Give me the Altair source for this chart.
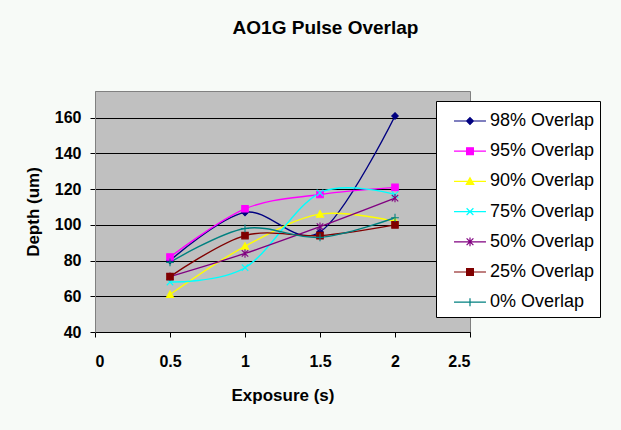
import altair as alt
import pandas as pd

# Exposure times (s) and measured depth (um) per overlap setting
exposure = [0.5, 1.0, 1.5, 2.0]
series_names = [
    "98% Overlap", "95% Overlap", "90% Overlap", "75% Overlap",
    "50% Overlap", "25% Overlap", "0% Overlap",
]
depth_98 = [80, 107, 96, 161]
depth_95 = [82, 109, 117, 121]
depth_90 = [61, 88, 106, 102]
depth_75 = [68, 76, 118, 117]
depth_50 = [71, 84, 99, 115]
depth_25 = [71, 94, 94, 100]
depth_0 = [79, 98, 93, 104]

x_ticks = [0, 0.5, 1, 1.5, 2, 2.5]
y_ticks = [40, 60, 80, 100, 120, 140, 160]

series_colors = ["#000080", "#FF00FF", "#FFFF00", "#00FFFF", "#800080", "#800000", "#008080"]

# Marker glyphs (unit-square SVG paths) for each series
marker_paths = [
    "M0,-1L1,0L0,1L-1,0Z",                       # diamond
    "M-1,-1H1V1H-1Z",                            # square
    "M0,-1.1L1.1,0.9H-1.1Z",                     # triangle
    "M-1,-1L1,1M-1,1L1,-1",                      # x
    "M-1,-1L1,1M-1,1L1,-1M0,-1.3V1.3",           # asterisk
    "M-1,-1H1V1H-1Z",                            # square
    "M-1.2,0H1.2M0,-1.2V1.2",                    # plus
]


def legend_glyph(path, k=0.24):
    """Short line segment with the series marker drawn at its centre."""
    out = []
    num = ""
    for ch in path:
        if ch in "MLHVZ,":
            if num:
                out.append(f"{float(num) * k:.3f}")
                num = ""
            out.append(ch)
        else:
            num += ch
    if num:
        out.append(f"{float(num) * k:.3f}")
    return "M-1.13,0H1.13" + "".join(out)


legend_paths = [legend_glyph(p) for p in marker_paths]

all_depths = [depth_98, depth_95, depth_90, depth_75, depth_50, depth_25, depth_0]
rows = []
for name, depths in zip(series_names, all_depths):
    for e, d in zip(exposure, depths):
        rows.append({"series": name, "exposure": e, "depth": d})
df = pd.DataFrame(rows)

FONT = "Liberation Sans"

x_enc = alt.X(
    "exposure:Q",
    scale=alt.Scale(domain=[0, 2.5], nice=False, zero=False),
    axis=alt.Axis(
        values=x_ticks, format="~g", title="Exposure (s)", grid=False,
        labelFontSize=16, labelFontWeight="bold", labelPadding=16,
        titleFontSize=17, titleFontWeight="bold", titlePadding=18,
        tickSize=5, tickColor="black", domainColor="black", labelColor="black",
        titleColor="black", labelFont=FONT, titleFont=FONT,
    ),
)
y_enc = alt.Y(
    "depth:Q",
    scale=alt.Scale(domain=[40, 175], nice=False, zero=False),
    axis=alt.Axis(
        values=y_ticks, format="d", title="Depth (um)", grid=True,
        gridColor="black", gridWidth=1, gridOpacity=1,
        labelFontSize=16, labelFontWeight="bold", labelPadding=9,
        titleFontSize=17, titleFontWeight="bold", titlePadding=12,
        tickSize=5, tickColor="black", domainColor="#808080", labelColor="black",
        titleColor="black", labelFont=FONT, titleFont=FONT,
    ),
)

color_scale = alt.Scale(domain=series_names, range=series_colors)
order_enc = alt.Order("order:Q")

base = alt.Chart(df).transform_calculate(
    order=f"indexof({series_names!r}, datum.series)"
)

lines = base.mark_line(interpolate="cardinal", strokeWidth=1.4).encode(
    x=x_enc,
    y=y_enc,
    color=alt.Color("series:N", scale=color_scale, legend=None, sort=series_names),
)

markers = base.mark_point(filled=True, size=42, strokeWidth=1.1, opacity=1).encode(
    x=x_enc,
    y=y_enc,
    fill=alt.Fill("series:N", scale=color_scale, legend=None),
    stroke=alt.Stroke("series:N", scale=color_scale, legend=None),
    shape=alt.Shape("series:N", scale=alt.Scale(domain=series_names, range=marker_paths), legend=None),
    order=order_enc,
)

legend = alt.Legend(
    title=None, orient="none", legendX=341, legendY=10,
    fillColor="white", strokeColor="black", padding=5,
    symbolSize=800, symbolStrokeWidth=1.2, symbolOpacity=1,
    symbolOffset=14, labelOffset=5, rowPadding=6.2,
    labelFontSize=18, labelFont=FONT, labelColor="black", labelLimit=300,
)

legend_keys = base.mark_point(filled=True, opacity=0).encode(
    x=x_enc,
    y=y_enc,
    fill=alt.Fill("series:N", scale=color_scale, legend=legend),
    stroke=alt.Stroke("series:N", scale=color_scale, legend=legend),
    shape=alt.Shape("series:N", scale=alt.Scale(domain=series_names, range=legend_paths), legend=legend),
)

chart = (
    alt.layer(lines, markers, legend_keys)
    .resolve_scale(shape="independent", fill="independent", stroke="independent", color="independent")
    .properties(
        width=375,
        height=241,
        autosize=alt.AutoSizeParams(type="none"),
        padding={"left": 95, "top": 91, "right": 151, "bottom": 98},
        background="#f7faf7",
        title=alt.TitleParams(
            "AO1G Pulse Overlap", font=FONT, fontSize=19, fontWeight="bold",
            color="black", anchor="middle", frame="group", dx=43, offset=38,
            baseline="alphabetic",
        ),
    )
    .configure_view(fill="#c0c0c0", stroke="#808080", strokeWidth=1)
)

chart.save("out.html", embed_options={"renderer": "svg", "actions": False})
